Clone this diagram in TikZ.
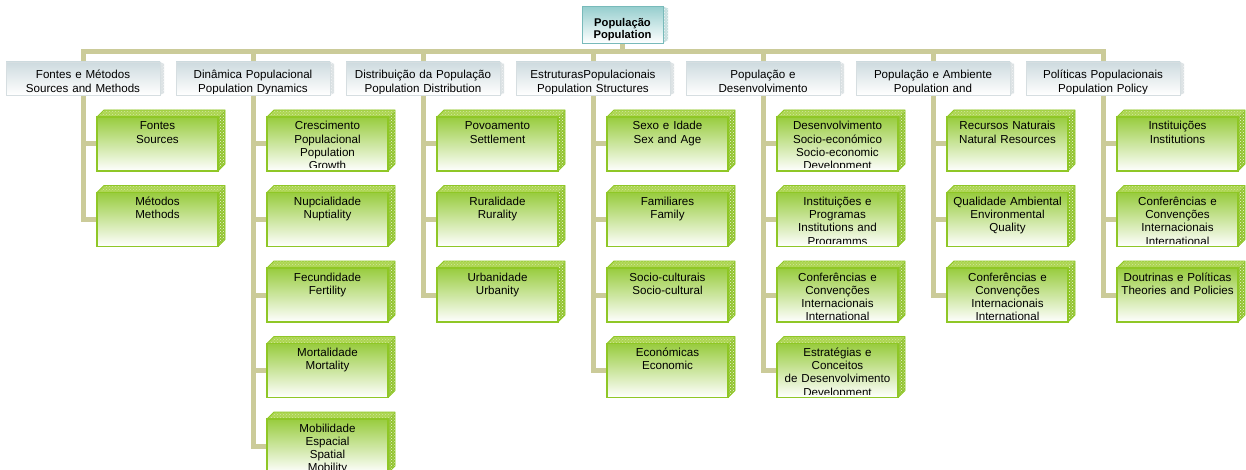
\documentclass[tikz,border=0pt]{standalone}
\usepackage{fontspec}
\setmainfont{Liberation Sans}
\usetikzlibrary{patterns,backgrounds}

\definecolor{barc}{RGB}{203,203,153}
\definecolor{gline}{RGB}{143,199,38}
\definecolor{gfront}{RGB}{152,204,62}
\definecolor{gtop}{RGB}{172,213,80}
\definecolor{gside}{RGB}{146,196,48}
\definecolor{lfront}{RGB}{206,219,223}
\definecolor{lline}{RGB}{214,222,225}
\definecolor{lside}{RGB}{220,226,228}
\definecolor{tfront}{RGB}{150,206,206}
\definecolor{tline}{RGB}{120,186,186}
\definecolor{tside}{RGB}{196,222,222}

\tikzset{
  face/.style={rectangle, inner sep=0pt, outer sep=0pt},
  link/.style={draw=barc, line width=5pt},
  gtext/.style={font=\fontsize{11.6}{13.2}\selectfont, text width=121pt, align=center, inner sep=0pt, anchor=base},
  ttext/.style={font=\fontsize{11.6}{13.4}\selectfont, text width=154pt, align=center, inner sep=0pt, anchor=base},
  rtext/.style={font=\bfseries\fontsize{11.2}{11.4}\selectfont, text width=80pt, align=center, inner sep=0pt, anchor=base},
}

% green leaf box: name, left x, top y, text
\newcommand\greenbox[4]{%
  \node[face, minimum width=121pt, minimum height=54pt, anchor=north west] (#1) at (#2,#3) {};
  \shade[top color=gfront, middle color=gfront!30!white, bottom color=white]
    (#1.north west) rectangle (#1.south east);
  \fill[gtop] (#1.north west) -- ++(7pt,7pt) -- ([shift={(7pt,7pt)}]#1.north east) -- (#1.north east) -- cycle;
  \fill[pattern=crosshatch dots, pattern color=gtop!55!white]
    (#1.north west) -- ++(7pt,7pt) -- ([shift={(7pt,7pt)}]#1.north east) -- (#1.north east) -- cycle;
  \fill[gside] (#1.north east) -- ++(7pt,7pt) -- ([shift={(7pt,7pt)}]#1.south east) -- (#1.south east) -- cycle;
  \fill[pattern=crosshatch dots, pattern color=white!85!gside]
    (#1.north east) -- ++(7pt,7pt) -- ([shift={(7pt,7pt)}]#1.south east) -- (#1.south east) -- cycle;
  \draw[gline, line width=0.8pt, line join=round]
    (#1.north west) -- ++(7pt,7pt) -- ([shift={(7pt,7pt)}]#1.north east)
    -- ([shift={(7pt,7pt)}]#1.south east) -- (#1.south east);
  \draw[gline, line width=1.8pt] (#1.north west) rectangle (#1.south east);
  \begin{scope}
    \clip ([shift={(1pt,-1pt)}]#1.north west) rectangle ([shift={(-1pt,3pt)}]#1.south east);
    \node[gtext] (#1-label) at ([yshift=-13pt]#1.north) {#4};
  \end{scope}
}

% grey topic box: name, left x, text
\newcommand\topicbox[3]{%
  \node[face, minimum width=154pt, minimum height=33pt, anchor=north west] (#1) at (#2,62) {};
  \shade[top color=lfront, bottom color=white] (#1.north west) rectangle (#1.south east);
  \fill[lside] (#1.north east) -- ++(4pt,-2pt) -- ([shift={(4pt,2pt)}]#1.south east) -- (#1.south east) -- cycle;
  \fill[pattern=crosshatch dots, pattern color=white!60!lside]
    (#1.north east) -- ++(4pt,-2pt) -- ([shift={(4pt,2pt)}]#1.south east) -- (#1.south east) -- cycle;
  \draw[lline, line width=0.7pt] (#1.north west) rectangle (#1.south east);
  \begin{scope}
    \clip ([shift={(1pt,-1pt)}]#1.north west) rectangle ([shift={(-1pt,1.5pt)}]#1.south east);
    \node[ttext] (#1-label) at ([yshift=-17pt]#1.north) {#3};
  \end{scope}
}

\begin{document}
\begin{tikzpicture}[x=1pt,y=-1pt]
\clip (0,0) rectangle (1246,470);

% root
\node[face, minimum width=81pt, minimum height=36.5pt, anchor=north west] (root) at (582,6.5) {};
\shade[top color=tfront, bottom color=white] (root.north west) rectangle (root.south east);
\fill[tside] (root.north east) -- ++(5pt,-2pt) -- ([shift={(5pt,3pt)}]root.south east) -- (root.south east) -- cycle;
\fill[pattern=crosshatch dots, pattern color=white!70!tside]
  (root.north east) -- ++(5pt,-2pt) -- ([shift={(5pt,3pt)}]root.south east) -- (root.south east) -- cycle;
\draw[tline, line width=0.8pt] (root.north west) rectangle (root.south east);
\node[rtext] (root-label) at ([yshift=-20.5pt]root.north) {População\\Population};

\coordinate (bar) at (0,52);

% topic boxes
\topicbox{t1}{6}{Fontes e Métodos\\Sources and Methods}
\topicbox{t2}{176}{Dinâmica Populacional\\Population Dynamics}
\topicbox{t3}{346}{Distribuição da População\\Population Distribution}
\topicbox{t4}{516}{EstruturasPopulacionais\\Population Structures}
\topicbox{t5}{686}{População e\\Desenvolvimento}
\topicbox{t6}{856}{População e Ambiente\\Population and}
\topicbox{t7}{1026}{Políticas Populacionais\\Population Policy}

% leaves
\greenbox{g11}{97}{117}{Fontes\\Sources}
\greenbox{g12}{97}{192.5}{Métodos\\Methods}

\greenbox{g21}{267}{117}{Crescimento\\Populacional\\Population\\Growth}
\greenbox{g22}{267}{192.5}{Nupcialidade\\Nuptiality}
\greenbox{g23}{267}{268}{Fecundidade\\Fertility}
\greenbox{g24}{267}{343.5}{Mortalidade\\Mortality}
\greenbox{g25}{267}{419}{Mobilidade\\Espacial\\Spatial\\Mobility}

\greenbox{g31}{437}{117}{Povoamento\\Settlement}
\greenbox{g32}{437}{192.5}{Ruralidade\\Rurality}
\greenbox{g33}{437}{268}{Urbanidade\\Urbanity}

\greenbox{g41}{607}{117}{Sexo e Idade\\Sex and Age}
\greenbox{g42}{607}{192.5}{Familiares\\Family}
\greenbox{g43}{607}{268}{Socio-culturais\\Socio-cultural}
\greenbox{g44}{607}{343.5}{Económicas\\Economic}

\greenbox{g51}{777}{117}{Desenvolvimento\\Socio-económico\\Socio-economic\\Development}
\greenbox{g52}{777}{192.5}{Instituições e\\Programas\\Institutions and\\Programms}
\greenbox{g53}{777}{268}{Conferências e\\Convenções\\Internacionais\\International}
\greenbox{g54}{777}{343.5}{Estratégias e\\Conceitos\\de Desenvolvimento\\Development}

\greenbox{g61}{947}{117}{Recursos Naturais\\Natural Resources}
\greenbox{g62}{947}{192.5}{Qualidade Ambiental\\Environmental\\Quality}
\greenbox{g63}{947}{268}{Conferências e\\Convenções\\Internacionais\\International}

\greenbox{g71}{1117}{117}{Instituições\\Institutions}
\greenbox{g72}{1117}{192.5}{Conferências e\\Convenções\\Internacionais\\International}
\greenbox{g73}{1117}{268}{Doutrinas e Políticas\\Theories and Policies}

% connectors, behind the boxes
\begin{scope}[on background layer]
  \fill[white] (0,0) rectangle (1246,470);
  \foreach \t in {t1,t2,t3,t4,t5,t6,t7}
    \draw[link] (root.south) -- (root.south |- bar) -| (\t.north);
  \foreach \g in {g11,g12} \draw[link] (t1.south) |- (\g.west);
  \foreach \g in {g21,g22,g23,g24,g25} \draw[link] (t2.south) |- (\g.west);
  \foreach \g in {g31,g32,g33} \draw[link] (t3.south) |- (\g.west);
  \foreach \g in {g41,g42,g43,g44} \draw[link] (t4.south) |- (\g.west);
  \foreach \g in {g51,g52,g53,g54} \draw[link] (t5.south) |- (\g.west);
  \foreach \g in {g61,g62,g63} \draw[link] (t6.south) |- (\g.west);
  \foreach \g in {g71,g72,g73} \draw[link] (t7.south) |- (\g.west);
\end{scope}
\end{tikzpicture}
\end{document}
